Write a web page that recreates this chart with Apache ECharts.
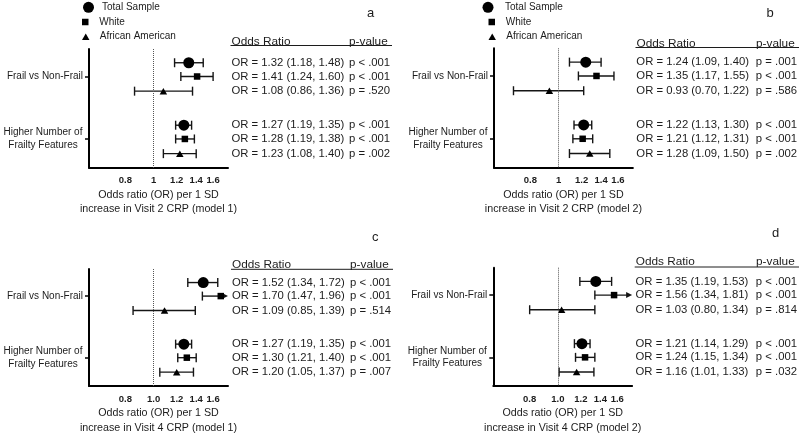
<!DOCTYPE html>
<html><head><meta charset="utf-8">
<script src="https://cdn.jsdelivr.net/npm/echarts@6/dist/echarts.min.js"></script>
<style>html,body{margin:0;padding:0;background:#fff}#c{width:800px;height:436px}</style>
</head><body><div id="c"></div>
<script>
// ---------------- data ----------------
const categories = ['Frail vs Non-Frail', 'Higher Number of\nFrailty Features'];
const subgroups = ['Total Sample', 'White', 'African American'];
const tickLabelsAB = ['0.8', '1', '1.2', '1.4', '1.6'];
const tickLabelsCD = ['0.8', '1.0', '1.2', '1.4', '1.6'];
const panelLetters = ['a', 'b', 'c', 'd'];
const axisTitles = [
  'Odds ratio (OR) per 1 SD\nincrease in Visit 2 CRP (model 1)',
  'Odds ratio (OR) per 1 SD\nincrease in Visit 2 CRP (model 2)',
  'Odds ratio (OR) per 1 SD\nincrease in Visit 4 CRP (model 1)',
  'Odds ratio (OR) per 1 SD\nincrease in Visit 4 CRP (model 2)'
];
const tableHeaders = ['Odds Ratio', 'p-value'];

// plotted estimates: [category][subgroup]
const aOR = [[1.32, 1.41, 1.08], [1.27, 1.28, 1.23]];
const aLo = [[1.18, 1.24, 0.86], [1.19, 1.19, 1.08]];
const aHi = [[1.48, 1.60, 1.36], [1.35, 1.38, 1.40]];
const bOR = [[1.24, 1.35, 0.93], [1.22, 1.21, 1.28]];
const bLo = [[1.09, 1.17, 0.70], [1.13, 1.12, 1.09]];
const bHi = [[1.40, 1.55, 1.22], [1.30, 1.31, 1.50]];
const cOR = [[1.48, 1.70, 1.09], [1.27, 1.30, 1.20]];
const cLo = [[1.31, 1.47, 0.85], [1.19, 1.21, 1.05]];
const cHi = [[1.66, 1.96, 1.39], [1.35, 1.40, 1.37]];
const dOR = [[1.35, 1.56, 1.03], [1.21, 1.24, 1.16]];
const dLo = [[1.19, 1.34, 0.80], [1.14, 1.15, 1.01]];
const dHi = [[1.53, 1.81, 1.34], [1.29, 1.34, 1.33]];

// table texts (rows in plot order)
const aText = ['OR = 1.32 (1.18, 1.48)', 'OR = 1.41 (1.24, 1.60)', 'OR = 1.08 (0.86, 1.36)', 'OR = 1.27 (1.19, 1.35)', 'OR = 1.28 (1.19, 1.38)', 'OR = 1.23 (1.08, 1.40)'];
const aP = ['p < .001', 'p < .001', 'p = .520', 'p < .001', 'p < .001', 'p = .002'];
const bText = ['OR = 1.24 (1.09, 1.40)', 'OR = 1.35 (1.17, 1.55)', 'OR = 0.93 (0.70, 1.22)', 'OR = 1.22 (1.13, 1.30)', 'OR = 1.21 (1.12, 1.31)', 'OR = 1.28 (1.09, 1.50)'];
const bP = ['p = .001', 'p < .001', 'p = .586', 'p < .001', 'p < .001', 'p = .002'];
const cText = ['OR = 1.52 (1.34, 1.72)', 'OR = 1.70 (1.47, 1.96)', 'OR = 1.09 (0.85, 1.39)', 'OR = 1.27 (1.19, 1.35)', 'OR = 1.30 (1.21, 1.40)', 'OR = 1.20 (1.05, 1.37)'];
const cP = ['p < .001', 'p < .001', 'p = .514', 'p < .001', 'p < .001', 'p = .007'];
const dText = ['OR = 1.35 (1.19, 1.53)', 'OR = 1.56 (1.34, 1.81)', 'OR = 1.03 (0.80, 1.34)', 'OR = 1.21 (1.14, 1.29)', 'OR = 1.24 (1.15, 1.34)', 'OR = 1.16 (1.01, 1.33)'];
const dP = ['p < .001', 'p < .001', 'p = .814', 'p < .001', 'p < .001', 'p = .032'];

// ---------------- layout / style ----------------
const FONT = "'Liberation Sans', Arial, Helvetica, sans-serif";
const INK = '#1c1c1c';
const X_MIN = Math.log(0.6), X_MAX = Math.log(1.8);
const Y_MIN = -0.44, Y_MAX = 1.46;
const ROW_OFF = [-0.22, 0, 0.235];
const rowY = (c, s) => c + ROW_OFF[s];
const ROWS = [];
[0, 1].forEach(c => [0, 1, 2].forEach(s => ROWS.push(rowY(c, s))));
const SYMBOLS = ['circle', 'rect', 'triangle'];
const SIZES = [11, 6.5, [7.5, 6.5]];
const LEGEND_ICONS = ['circle', 'path://M0,0H10V10H0Z', 'path://M5,0L10,8.7L0,8.7Z'];
const LEGEND_H = [11, 6.5, 6.5];
const LEGEND_Y = [7.3, 22, 36.7];

const panels = [
  { or: aOR, lo: aLo, hi: aHi, text: aText, p: aP, ticks: tickLabelsAB,
    grid: { left: 89, top: 49, width: 139, height: 118.7 }, orX: 231.5, pX: 349, headY: 41.7, ruleY: 45.5,
    letterXY: [370.7, 13.3], legend: { x: [91.5, 91, 91], textX: 105 } },
  { or: bOR, lo: bLo, hi: bHi, text: bText, p: bP, ticks: tickLabelsAB,
    grid: { left: 494, top: 48.3, width: 139, height: 119.4 }, orX: 636.5, pX: 756, headY: 43.3, ruleY: 47.5,
    letterXY: [770, 13.3], legend: { x: [494.5, 497.5, 497.5], textX: 511.5 } },
  { or: cOR, lo: cLo, hi: cHi, text: cText, p: cP, ticks: tickLabelsCD,
    grid: { left: 89, top: 269, width: 139, height: 120 }, orX: 232, pX: 350, headY: 264.7, ruleY: 269.3,
    letterXY: [375.3, 237.3], legend: null },
  { or: dOR, lo: dLo, hi: dHi, text: dText, p: dP, ticks: tickLabelsCD,
    grid: { left: 493.3, top: 267.7, width: 139, height: 121.3 }, orX: 635.7, pX: 756, headY: 262, ruleY: 267,
    letterXY: [775.7, 233], legend: null }
];

function nearestIdx(arr, v) {
  let b = 0;
  for (let i = 1; i < arr.length; i++) if (Math.abs(arr[i] - v) < Math.abs(arr[b] - v)) b = i;
  return b;
}

function renderBar(params, api) {
  const lo = api.value(0), hi = api.value(1), y = api.value(2);
  const p0 = api.coord([lo, y]);
  const clipped = hi > X_MAX;
  const p1 = api.coord([Math.min(hi, X_MAX), y]);
  const cap = 4.5;
  const st = { stroke: '#151515', lineWidth: 1.4 };
  const children = [
    { type: 'line', shape: { x1: p0[0], y1: p0[1], x2: clipped ? p1[0] - 4 : p1[0], y2: p1[1] }, style: st },
    { type: 'line', shape: { x1: p0[0], y1: p0[1] - cap, x2: p0[0], y2: p0[1] + cap }, style: st }
  ];
  if (clipped) {
    children.push({ type: 'polygon', shape: { points: [[p1[0], p1[1]], [p1[0] - 6, p1[1] - 3], [p1[0] - 6, p1[1] + 3]] }, style: { fill: '#151515' } });
  } else {
    children.push({ type: 'line', shape: { x1: p1[0], y1: p1[1] - cap, x2: p1[0], y2: p1[1] + cap }, style: st });
  }
  return { type: 'group', children };
}

const option = { animation: false, grid: [], xAxis: [], yAxis: [], series: [], legend: [], graphic: [] };

panels.forEach((P, i) => {
  option.grid.push(Object.assign({}, P.grid));
  const gridRight = P.grid.left + P.grid.width;
  const tickVals = P.ticks.map(t => Math.log(parseFloat(t)));
  option.xAxis.push({
    type: 'value', gridIndex: i, min: X_MIN, max: X_MAX,
    name: axisTitles[i], nameLocation: 'middle', nameGap: 20,
    nameTextStyle: { fontFamily: FONT, fontSize: 10.7, lineHeight: 14.5, color: INK },
    axisLine: { show: true, onZero: false, lineStyle: { color: '#000', width: 2 } },
    axisTick: { show: false }, splitLine: { show: false },
    axisLabel: { customValues: tickVals, formatter: v => P.ticks[nearestIdx(tickVals, v)],
      fontFamily: FONT, fontSize: 9.5, fontWeight: 'bold', color: INK, margin: 8 }
  });
  const yBase = { type: 'value', gridIndex: i, min: Y_MIN, max: Y_MAX, inverse: true, splitLine: { show: false } };
  option.yAxis.push(Object.assign({}, yBase, {
    position: 'left',
    axisLine: { show: true, onZero: false, lineStyle: { color: '#000', width: 2 } },
    axisTick: { show: true, customValues: [0, 1], length: 4, lineStyle: { color: '#000', width: 1.5 } },
    axisLabel: {
      customValues: [0, 1], margin: 6, fontFamily: FONT, fontSize: 10, color: INK,
      formatter: v => {
        const t = categories[nearestIdx([0, 1], v)];
        return t.indexOf('\n') >= 0 ? t.split('\n').map(s => '{c|' + s + '}').join('\n') : t;
      },
      rich: { c: { width: 80, align: 'center', fontSize: 10, lineHeight: 12.5, fontFamily: FONT, color: INK } }
    }
  }));
  option.yAxis.push(Object.assign({}, yBase, {
    position: 'right', axisLine: { show: false, onZero: false }, axisTick: { show: false },
    axisLabel: { customValues: ROWS, margin: P.orX - gridRight, formatter: v => P.text[nearestIdx(ROWS, v)],
      fontFamily: FONT, fontSize: 11.3, color: INK }
  }));
  option.yAxis.push(Object.assign({}, yBase, {
    position: 'right', offset: P.pX - gridRight, axisLine: { show: false, onZero: false }, axisTick: { show: false },
    axisLabel: { customValues: ROWS, margin: 0, formatter: v => P.p[nearestIdx(ROWS, v)],
      fontFamily: FONT, fontSize: 11.3, color: INK }
  }));

  const errData = [];
  [0, 1].forEach(c => [0, 1, 2].forEach(s => {
    errData.push([Math.log(P.lo[c][s]), Math.log(P.hi[c][s]), rowY(c, s)]);
  }));
  option.series.push({ type: 'custom', xAxisIndex: i, yAxisIndex: 3 * i, renderItem: renderBar, data: errData,
    encode: { x: [0, 1], y: 2 }, z: 2, silent: true, clip: false });
  subgroups.forEach((name, s) => {
    const ser = { type: 'scatter', name, xAxisIndex: i, yAxisIndex: 3 * i, symbol: SYMBOLS[s], symbolSize: SIZES[s],
      itemStyle: { color: '#000', opacity: 1 }, z: 3, silent: true,
      data: [0, 1].map(c => [Math.log(P.or[c][s]), rowY(c, s)]) };
    if (s === 0) {
      ser.markLine = { silent: true, symbol: ['none', 'none'], label: { show: false },
        lineStyle: { color: '#555', type: 'dotted', width: 1 }, data: [{ xAxis: 0 }], animation: false };
    }
    option.series.push(ser);
  });

  if (P.legend) {
    subgroups.forEach((name, s) => {
      const cx = P.legend.x[s];
      const w = 2 * (P.legend.textX - cx - 5);
      const h = LEGEND_H[s];
      option.legend.push({
        left: cx - w / 2, top: LEGEND_Y[s] - (s === 0 ? 5.5 : 5), padding: 0, orient: 'vertical',
        itemWidth: w, itemHeight: h, selectedMode: false,
        data: [{ name, icon: LEGEND_ICONS[s] }],
        textStyle: { fontFamily: FONT, fontSize: 10, lineHeight: 10, color: INK }
      });
    });
  }

  option.graphic.push(
    { type: 'text', x: P.letterXY[0], y: P.letterXY[1], silent: true,
      style: { text: panelLetters[i], fill: INK, fontSize: 13, fontFamily: FONT, align: 'center', verticalAlign: 'middle' } },
    { type: 'text', x: P.orX, y: P.headY, silent: true,
      style: { text: tableHeaders[0], fill: INK, fontSize: 11.8, fontFamily: FONT, align: 'left', verticalAlign: 'middle' } },
    { type: 'text', x: P.pX, y: P.headY, silent: true,
      style: { text: tableHeaders[1], fill: INK, fontSize: 11.8, fontFamily: FONT, align: 'left', verticalAlign: 'middle' } },
    { type: 'line', silent: true, shape: { x1: P.orX - 1, y1: P.ruleY, x2: P.pX + 43, y2: P.ruleY },
      style: { stroke: INK, lineWidth: 1 } }
  );
});

const chart = echarts.init(document.getElementById('c'), null, { renderer: 'canvas' });
chart.setOption(option);
</script></body></html>
